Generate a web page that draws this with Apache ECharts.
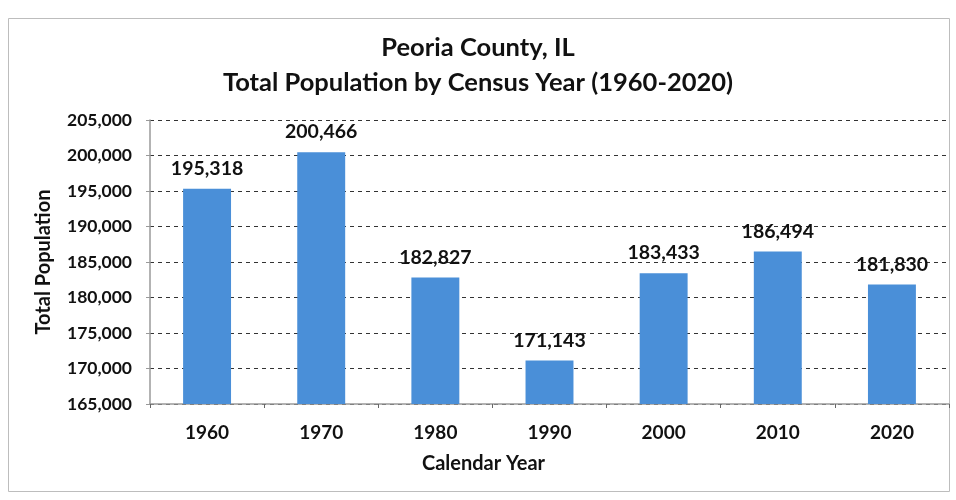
<!DOCTYPE html>
<html><head><meta charset="utf-8">
<script src="https://cdn.jsdelivr.net/npm/echarts@6/dist/echarts.min.js"></script>
<style>html,body{margin:0;padding:0;background:#fff}#c{width:956px;height:500px}</style>
</head><body><div id="c"></div>
<script>
const categories = ['1960','1970','1980','1990','2000','2010','2020'];
const population = [195318, 200466, 182827, 171143, 183433, 186494, 181830];
const yMin = 165000, yMax = 205000, yStep = 5000;
const titleLines = ['Peoria County, IL', 'Total Population by Census Year (1960-2020)'];

const FONT = 'Lato, "Open Sans", sans-serif';
const chart = echarts.init(document.getElementById('c'), null, {renderer: 'canvas'});
chart.setOption({
  backgroundColor: '#fff',
  animation: false,
  graphic: [{
    type: 'rect', shape: {x: 8.5, y: 18.5, width: 941, height: 473},
    style: {fill: 'none', stroke: '#bdbdbd', lineWidth: 1}, silent: true, z: -1
  }],
  title: [
    {text: titleLines[0], left: 'center', top: 30, textStyle: {fontFamily: FONT, fontWeight: 'bold', fontSize: 25.5, color: '#111'}},
    {text: titleLines[1], left: 'center', top: 65, textStyle: {fontFamily: FONT, fontWeight: 'bold', fontSize: 25.5, color: '#111'}}
  ],
  grid: {left: 150, right: 7, top: 120, bottom: 96, containLabel: false},
  xAxis: {
    type: 'category', data: categories,
    name: 'Calendar Year', nameLocation: 'middle', nameGap: 50,
    nameTextStyle: {fontFamily: FONT, fontWeight: 'bold', fontSize: 20, color: '#111', padding: [0, 132, 0, 0]},
    axisLine: {lineStyle: {color: '#9a9a9a', width: 1.5}},
    axisTick: {show: true, alignWithLabel: false, length: 4, lineStyle: {color: '#666'}},
    axisLabel: {fontFamily: FONT, fontWeight: 'bold', fontSize: 19, color: '#111', margin: 19}
  },
  yAxis: {
    type: 'value', min: yMin, max: yMax, interval: yStep,
    name: 'Total Population', nameLocation: 'middle', nameGap: 96,
    nameTextStyle: {fontFamily: FONT, fontWeight: 'bold', fontSize: 20, color: '#111'},
    axisLine: {show: true, lineStyle: {color: '#9a9a9a', width: 1.5}},
    axisTick: {show: true, length: 4, lineStyle: {color: '#999'}},
    axisLabel: {fontFamily: FONT, fontWeight: 'bold', fontSize: 17.5, color: '#111', margin: 18,
      formatter: v => v.toLocaleString('en-US')},
    splitLine: {show: true, lineStyle: {color: '#333', type: [4, 4], width: 1}}
  },
  series: [{
    type: 'bar', data: population, barWidth: '42%',
    itemStyle: {color: '#4A8FD8'},
    label: {show: true, position: 'top', distance: 10, fontFamily: FONT, fontWeight: 'bold', fontSize: 19.5, color: '#111',
      formatter: p => p.value.toLocaleString('en-US')}
  }]
});
</script></body></html>
